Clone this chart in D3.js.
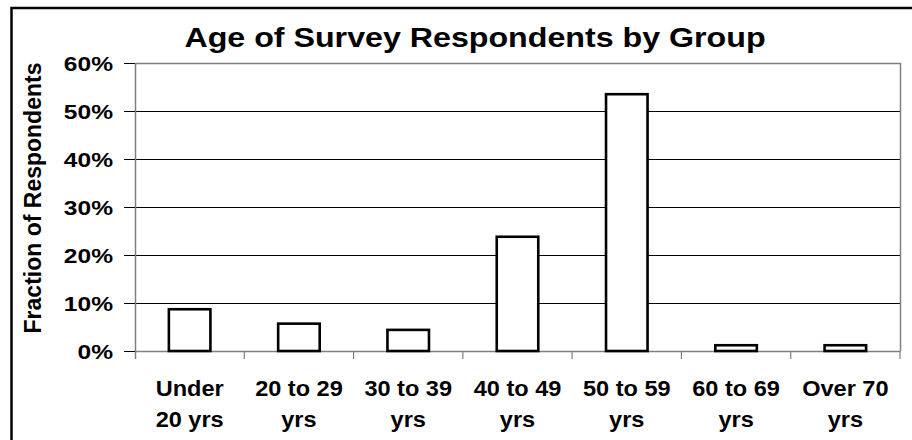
<!DOCTYPE html>
<html>
<head>
<meta charset="utf-8">
<script src="https://cdn.jsdelivr.net/npm/d3@7"></script>
<style>
  body { margin: 0; background: #fff; }
  text { font-family: "Liberation Sans", Arial, sans-serif; font-weight: bold; fill: #000; }
</style>
</head>
<body>
<div id="chart"></div>
<script>
// data
const categories = ["Under|20 yrs", "20 to 29|yrs", "30 to 39|yrs", "40 to 49|yrs", "50 to 59|yrs", "60 to 69|yrs", "Over 70|yrs"];
const fractions = [0.087, 0.057, 0.044, 0.238, 0.535, 0.012, 0.012];
const yTicks = [0, 0.1, 0.2, 0.3, 0.4, 0.5, 0.6];
const titleText = "Age of Survey Respondents by Group";
const yTitleText = "Fraction of Respondents";

const W = 912, H = 440;
const plot = {left: 135, right: 900, top: 63, bottom: 351};

const svg = d3.select("#chart").append("svg")
    .attr("width", W)
    .attr("height", H);

// outer frame (runs off the canvas on the right / bottom)
svg.append("rect")
    .attr("x", 11.5).attr("y", 8)
    .attr("width", 920).attr("height", 450)
    .attr("fill", "none")
    .attr("stroke", "#000")
    .attr("stroke-width", 2.5);

const x = d3.scaleBand()
    .domain(categories)
    .range([plot.left, plot.right])
    .padding(0);

const y = d3.scaleLinear()
    .domain([0, 0.6])
    .range([plot.bottom, plot.top]);

// gridlines
svg.append("g")
  .selectAll("line")
  .data(yTicks.filter(d => d > 0 && d < 0.6))
  .join("line")
    .attr("x1", plot.left).attr("x2", plot.right)
    .attr("y1", d => Math.round(y(d)) + 0.5)
    .attr("y2", d => Math.round(y(d)) + 0.5)
    .attr("stroke", "#000")
    .attr("stroke-width", 1);

// plot area border: top + right gray
svg.append("path")
    .attr("d", `M${plot.left},${plot.top + 0.5}H${plot.right + 0.5}V${plot.bottom}`)
    .attr("fill", "none")
    .attr("stroke", "#808080")
    .attr("stroke-width", 1.5);

// y axis
const yAxis = svg.append("g")
    .attr("transform", `translate(${plot.left},0)`)
    .call(d3.axisLeft(y).tickValues(yTicks).tickSize(11).tickFormat(d3.format(".0%")));
yAxis.select(".domain").attr("stroke", "#808080").attr("stroke-width", 1.5)
    .attr("d", `M0.5,${plot.top}V${plot.bottom + 8}`);
yAxis.selectAll(".tick line").attr("stroke", "#000");
yAxis.selectAll(".tick text")
    .attr("x", 0).attr("dy", null)
    .attr("font-size", 21)
    .attr("text-anchor", "end")
    .attr("transform", "translate(-22,7.5) scale(1.17,1)");

// x axis
const xAxis = svg.append("g")
    .attr("transform", `translate(0,${plot.bottom})`)
    .call(d3.axisBottom(x).tickSize(0).tickFormat(""));
xAxis.select(".domain").attr("stroke", "#808080").attr("stroke-width", 1.5);
xAxis.selectAll(".tick").remove();
xAxis.selectAll(".sep")
  .data(categories.slice(1).concat(["__end"]))
  .join("line")
    .attr("class", "sep")
    .attr("x1", (d, i) => i < categories.length - 1 ? x(d) : plot.right)
    .attr("x2", (d, i) => i < categories.length - 1 ? x(d) : plot.right)
    .attr("y1", 0).attr("y2", 8)
    .attr("stroke", "#808080")
    .attr("stroke-width", 1.2);

// category labels (two lines)
const labels = svg.append("g").selectAll("g")
  .data(categories)
  .join("g")
    .attr("transform", d => `translate(${x(d) + x.bandwidth() / 2},0)`);
labels.each(function(d) {
  const parts = d.split("|");
  d3.select(this).selectAll("text")
    .data(parts)
    .join("text")
      .attr("text-anchor", "middle")
      .attr("font-size", 22)
      .attr("transform", (p, i) => `translate(0,${396 + i * 31}) scale(1.07,1)`)
      .text(p => p);
});

// bars
const barW = x.bandwidth() * 0.38;
svg.append("g")
  .selectAll("rect")
  .data(fractions)
  .join("rect")
    .attr("x", (d, i) => x(categories[i]) + (x.bandwidth() - barW) / 2)
    .attr("y", d => y(d))
    .attr("width", barW)
    .attr("height", d => y(0) - y(d))
    .attr("fill", "#fff")
    .attr("stroke", "#000")
    .attr("stroke-width", 2.6);

// title
svg.append("text")
    .attr("text-anchor", "middle")
    .attr("font-size", 28)
    .attr("transform", "translate(475,47) scale(1.15,1)")
    .text(titleText);

// y title
svg.append("text")
    .attr("text-anchor", "middle")
    .attr("font-size", 23)
    .attr("transform", "translate(41,198) rotate(-90)")
    .text(yTitleText);
</script>
</body>
</html>
